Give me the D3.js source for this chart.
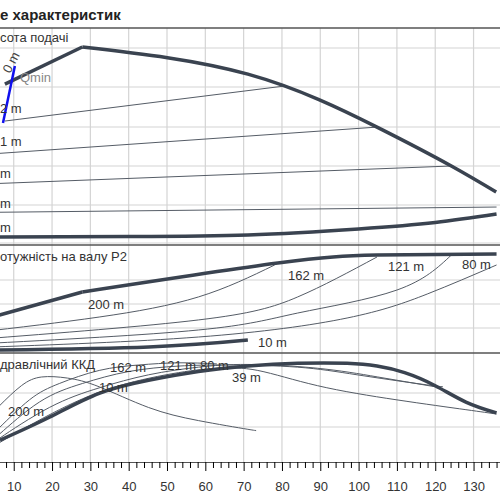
<!DOCTYPE html><html><head><meta charset="utf-8">
<script src="https://cdn.jsdelivr.net/npm/d3@7"></script>
<style>body{margin:0;background:#fff}svg{font-family:Arial,"Liberation Sans",sans-serif}</style></head><body>
<svg id="c" width="500" height="500"></svg>
<script>
const xTicks=[10,20,30,40,50,60,70,80,90,100,110,120,130];
// Head panel (Q, H)
const headMax=[[7.7,81.3],[27.9,100.3],[71.1,86.4],[104.8,59.3],[124.2,39.4],[135.9,26.1]];
const headMin=[[0,3],[40,3.3],[71.1,4.1],[100,7.2],[120,10.5],[136,14.8]];
const head162=[[7.7,62.4],[80.2,80.2]];
const head121=[[0,45],[104.8,59.3]];
const head80=[[0,30],[124.2,39.4]];
const head39=[[0,15.6],[136,18.4]];
const qmin=[[7.2,61.4],[10.3,90.5]];
// Power panel
const pMax=[[0,29],[27.9,56.5],[78.9,83.3],[104.8,90.7],[136,91.7]];
const p200=[[0,19],[32.3,33.3],[58.2,51.9],[78.1,81.5]];
const p162=[[0,12.5],[58.2,30.6],[84.1,51.9],[104.8,88.9]];
const p121=[[0,8.3],[58.2,21.3],[84.1,37],[110,58.3],[124.2,90.7]];
const p80=[[0,5],[58.2,14.8],[97,32.4],[117.9,54.6],[136,81.5]];
const p10=[[0,2.5],[45.2,5.6],[71.1,12]];
// Efficiency panel
const eThick=[[6.4,20],[19.3,41],[32.3,63],[45.2,75],[58.2,83],[71.1,88],[84.1,90.5],[97,90.5],[104.8,88],[112,82],[120,70],[128,55],[136,45]];
const e200=[[3,40],[6.4,52],[12,70],[17.3,78],[24,77],[32.3,69],[45.2,50],[58.2,38],[71.1,30],[73,29]];
const e162=[[3,22],[6.4,32],[14.1,57],[21.9,72],[32.3,84],[42.6,89],[53,91],[63,90]];
const e121=[[3,17],[6.4,26],[16.7,55],[27.9,72],[40,83],[53,88],[66,89],[84.1,87],[99.6,80],[115.2,72],[122,69]];
const e80=[[3,13],[6.4,22],[19.3,50],[32.3,68],[45.2,80],[58.2,87],[71.1,89.5],[89.3,86],[105,78],[120,69]];
const e39=[[3,10],[6.4,18],[21.9,48],[37.5,70],[53,82],[63.4,86],[73.7,84],[89.3,70],[110,57],[128,48],[136,44]];

const svg=d3.select("#c");
const x=d3.scaleLinear([0,136.9],[-24.6,500]);
const yH=d3.scaleLinear([0,110],[243,28]);
const yP=d3.scaleLinear([0,100],[353,245]);
const yE=d3.scaleLinear([0,100],[462,353]);
const grid="#d4d4d4", dark="#3a4350", thin="#555c66";
svg.append("g").selectAll("line").data(xTicks.concat([0])).join("line")
 .attr("x1",d=>x(d)).attr("x2",d=>x(d)).attr("y1",28).attr("y2",462).attr("stroke",grid).attr("stroke-width",1.2);
const hg=[48,87,127,166,205,280,304,328,393,427];
svg.append("g").selectAll("line").data(hg).join("line").attr("x1",0).attr("x2",500)
 .attr("y1",d=>d).attr("y2",d=>d).attr("stroke",grid).attr("stroke-width",1.2);
svg.append("g").selectAll("line").data([28,245,353]).join("line").attr("x1",0).attr("x2",500)
 .attr("y1",d=>d).attr("y2",d=>d).attr("stroke","#555").attr("stroke-width",1.3);
svg.append("line").attr("x1",0).attr("x2",500).attr("y1",243).attr("y2",243).attr("stroke",grid);
const ax=svg.append("g").attr("transform","translate(0,462)").call(d3.axisBottom(x).tickValues(xTicks).tickSize(9).tickFormat(d3.format("d")));
ax.select(".domain").attr("stroke","#555");
ax.selectAll("text").attr("font-size",13).attr("fill","#333").attr("dy","1.3em");
svg.append("g").attr("transform","translate(0,462)").call(d3.axisBottom(x).tickValues(d3.range(0,137,2).filter(v=>v%10)).tickSize(6).tickFormat(""))
 .call(g=>g.select(".domain").remove());
function line(data,ys,w,c){svg.append("path").datum(data).attr("fill","none").attr("stroke",c).attr("stroke-width",w)
 .attr("d",d3.line().x(d=>x(d[0])).y(d=>ys(d[1])).curve(d3.curveNatural));}
function lin(data,ys,w,c){svg.append("path").datum(data).attr("fill","none").attr("stroke",c).attr("stroke-width",w)
 .attr("d",d3.line().x(d=>x(d[0])).y(d=>ys(d[1])));}
[head162,head121,head80,head39].forEach(d=>lin(d,yH,1,thin));
lin(headMax.slice(0,2),yH,3.5,dark); line(headMax.slice(1),yH,3.5,dark);
line(headMin,yH,3.5,dark);
lin(qmin,yH,2.5,"#1010ee");
[p200,p162,p121,p80].forEach(d=>line(d,yP,1,thin));
lin(pMax.slice(0,2),yP,3.5,dark); line(pMax.slice(1),yP,3.5,dark);
line(p10,yP,3.5,dark);
[e200,e162,e121,e80,e39].forEach(d=>line(d,yE,1,thin));
line(eThick,yE,3.5,dark);
function txt(s,xx,yy,o={}){const t=svg.append("text").attr("x",xx).attr("y",yy).text(s).attr("font-size",o.fs||13)
 .attr("fill",o.c||"#333").attr("text-anchor",o.a||"start").attr("font-weight",o.w||"normal");
 if(o.r)t.attr("transform",`rotate(${o.r},${xx},${yy})`);}
txt("е характеристик",0,20,{w:"bold",fs:15,c:"#222"});
txt("сота подачі",0,42);
txt("отужність на валу  P2",0,261);
txt("дравлічний ККД",0,369);
txt("0 m",10,74,{r:-62,c:"#444"});
txt("Qmin",20,82,{c:"#888"});
txt("2 m",0,113); txt("1 m",0,146);
txt("m",0,178); txt("m",0,208); txt("m",0,232);
txt("200 m",88,309); txt("162 m",288,280); txt("121 m",388,271); txt("80 m",462,269); txt("10 m",258,347);
txt("162 m",110,372); txt("121 m",160,370); txt("80 m",200,370); txt("39 m",232,382); txt("10 m",99,392); txt("200 m",8,416);
</script></body></html>
